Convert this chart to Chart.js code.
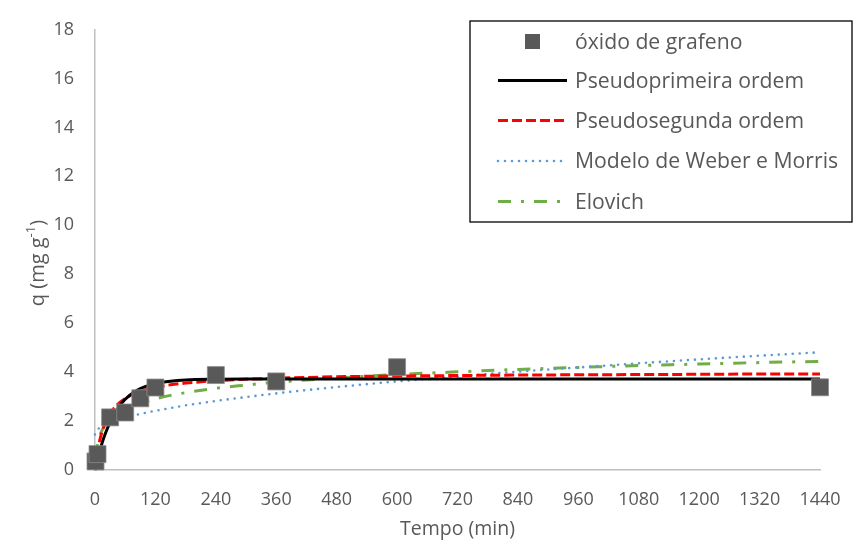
<!DOCTYPE html>
<html>
<head>
<meta charset="utf-8">
<script src="https://cdn.jsdelivr.net/npm/chart.js@4"></script>
<style>
  html, body { margin: 0; padding: 0; background: #fff; }
  #wrap { width: 853px; height: 545px; }
</style>
</head>
<body>
<div id="wrap"><canvas id="cinetica" width="853" height="545"></canvas></div>
<script>
// tempos experimentais (min) e q medido (mg/g)
const tempoExp = [1, 5, 30, 60, 90, 120, 240, 360, 600, 1440];
const qExp = [0.35, 0.65, 2.15, 2.35, 2.93, 3.37, 3.88, 3.62, 4.2, 3.38];

// tempos onde os modelos ajustados foram avaliados
const tempoModelo = [0, 5, 10, 15, 20, 30, 45, 60, 75, 90, 120, 150, 180, 240, 300, 360, 480, 600, 720, 840, 960, 1080, 1200, 1320, 1440];
const qPrimeira = [0, 0.44, 0.82, 1.16, 1.46, 1.96, 2.51, 2.89, 3.15, 3.33, 3.53, 3.63, 3.68, 3.71, 3.72, 3.72, 3.72, 3.72, 3.72, 3.72, 3.72, 3.72, 3.72, 3.72, 3.72];
const qSegunda = [0, 0.75, 1.26, 1.63, 1.91, 2.31, 2.68, 2.92, 3.09, 3.21, 3.37, 3.48, 3.55, 3.65, 3.71, 3.75, 3.81, 3.84, 3.86, 3.88, 3.89, 3.90, 3.91, 3.92, 3.92];
const qWeber = [1.45, 1.65, 1.73, 1.79, 1.85, 1.93, 2.04, 2.14, 2.22, 2.29, 2.42, 2.53, 2.64, 2.82, 2.98, 3.13, 3.39, 3.62, 3.82, 4.02, 4.19, 4.36, 4.52, 4.67, 4.81];
const qElovich = [0, 1.06, 1.43, 1.66, 1.83, 2.07, 2.31, 2.48, 2.62, 2.73, 2.91, 3.05, 3.16, 3.34, 3.47, 3.59, 3.76, 3.90, 4.01, 4.11, 4.19, 4.27, 4.33, 4.39, 4.44];

const rotulos = ['óxido de grafeno', 'Pseudoprimeira ordem', 'Pseudosegunda ordem', 'Modelo de Weber e Morris', 'Elovich'];

const corTexto = '#595959';
const fonte = '"Open Sans", "Noto Sans", sans-serif';

function pares(xs, ys) {
  return xs.map((x, i) => ({ x: x, y: ys[i] }));
}

function linha(label, valores, cor, largura, tracejado, ponta) {
  return {
    label: label,
    data: pares(tempoModelo, valores),
    showLine: true,
    borderColor: cor,
    backgroundColor: cor,
    borderWidth: largura,
    borderDash: tracejado,
    borderCapStyle: ponta || 'butt',
    pointRadius: 0,
    cubicInterpolationMode: 'monotone',
    fill: false,
    clip: false
  };
}

// legenda desenhada à mão dentro de uma caixa com borda preta
const legendaCaixa = {
  id: 'legendaCaixa',
  afterDraw(chart) {
    const ctx = chart.ctx;
    const x0 = 470, y0 = 21, x1 = 852, y1 = 222;
    ctx.save();
    ctx.fillStyle = '#fff';
    ctx.fillRect(x0, y0, x1 - x0, y1 - y0);
    ctx.strokeStyle = '#000';
    ctx.lineWidth = 1.3;
    ctx.strokeRect(x0, y0, x1 - x0, y1 - y0);

    const linhasY = [41.5, 80.5, 120.5, 161, 201.5];
    ctx.font = '21.2px ' + fonte;
    ctx.textBaseline = 'middle';
    chart.data.datasets.forEach((ds, i) => {
      const y = linhasY[i];
      if (i === 0) {
        ctx.fillStyle = ds.backgroundColor;
        ctx.fillRect(525, y - 7.5, 15, 15);
      } else {
        ctx.strokeStyle = ds.borderColor;
        ctx.lineWidth = ds.borderWidth;
        ctx.lineCap = ds.borderCapStyle;
        ctx.setLineDash(ds.borderDash || []);
        ctx.beginPath();
        ctx.moveTo(498, y);
        ctx.lineTo(567, y);
        ctx.stroke();
        ctx.setLineDash([]);
      }
      ctx.fillStyle = corTexto;
      ctx.textAlign = 'left';
      ctx.fillText(ds.label, 575, y + 1);
    });

    // título do eixo y com expoente
    ctx.translate(38, 263);
    ctx.rotate(-Math.PI / 2);
    const base = 'q (mg g';
    const exp = '-1';
    const fim = ')';
    ctx.font = '20px ' + fonte;
    const wBase = ctx.measureText(base).width;
    const wFim = ctx.measureText(fim).width;
    ctx.font = '13px ' + fonte;
    const wExp = ctx.measureText(exp).width;
    let x = -(wBase + wExp + wFim) / 2;
    ctx.fillStyle = corTexto;
    ctx.textAlign = 'left';
    ctx.textBaseline = 'middle';
    ctx.font = '20px ' + fonte;
    ctx.fillText(base, x, 0);
    x += wBase;
    ctx.font = '13px ' + fonte;
    ctx.fillText(exp, x, -7);
    x += wExp;
    ctx.font = '20px ' + fonte;
    ctx.fillText(fim, x, 0);
    ctx.restore();
  }
};

new Chart(document.getElementById('cinetica'), {
  type: 'scatter',
  data: {
    datasets: [
      {
        label: rotulos[0],
        data: pares(tempoExp, qExp),
        pointStyle: 'rect',
        pointRadius: 12,
        pointHoverRadius: 12,
        backgroundColor: '#595959',
        borderColor: '#8c8c8c',
        borderWidth: 0.8,
        clip: false
      },
      linha(rotulos[1], qPrimeira, '#000000', 3, []),
      linha(rotulos[2], qSegunda, '#ff0000', 3, [10, 4]),
      linha(rotulos[3], qWeber, '#5b9bd5', 2.6, [0, 7], 'round'),
      linha(rotulos[4], qElovich, '#70ad47', 3, [13, 10, 3, 10])
    ]
  },
  options: {
    responsive: false,
    animation: false,
    layout: { padding: { top: 29.5, right: 33, bottom: 4, left: 0 } },
    plugins: {
      legend: { display: false },
      tooltip: { enabled: false }
    },
    scales: {
      x: {
        type: 'linear',
        min: 0,
        max: 1440,
        afterFit(scale) {
          scale.height = 71;
          scale.paddingLeft = 0;
          scale.paddingRight = 0;
        },
        grid: { display: false, drawTicks: false },
        border: { display: true, color: '#bfbfbf', width: 1.5 },
        ticks: {
          stepSize: 120,
          padding: 19,
          color: corTexto,
          font: { family: fonte, size: 18 },
          maxRotation: 0,
          autoSkip: false,
          callback: (v) => String(v)
        },
        title: {
          display: true,
          text: 'Tempo (min)',
          color: corTexto,
          font: { family: fonte, size: 19.5 },
          padding: { top: 0, bottom: 0 }
        }
      },
      y: {
        min: 0,
        max: 18,
        afterFit(scale) {
          scale.width = 95;
          scale.paddingTop = 0;
          scale.paddingBottom = 0;
        },
        grid: { display: false, drawTicks: false },
        border: { display: true, color: '#bfbfbf', width: 1.5 },
        ticks: {
          stepSize: 2,
          padding: 21,
          color: corTexto,
          font: { family: fonte, size: 18 },
          callback: (v) => String(v)
        }
      }
    }
  },
  plugins: [legendaCaixa]
});
</script>
</body>
</html>
